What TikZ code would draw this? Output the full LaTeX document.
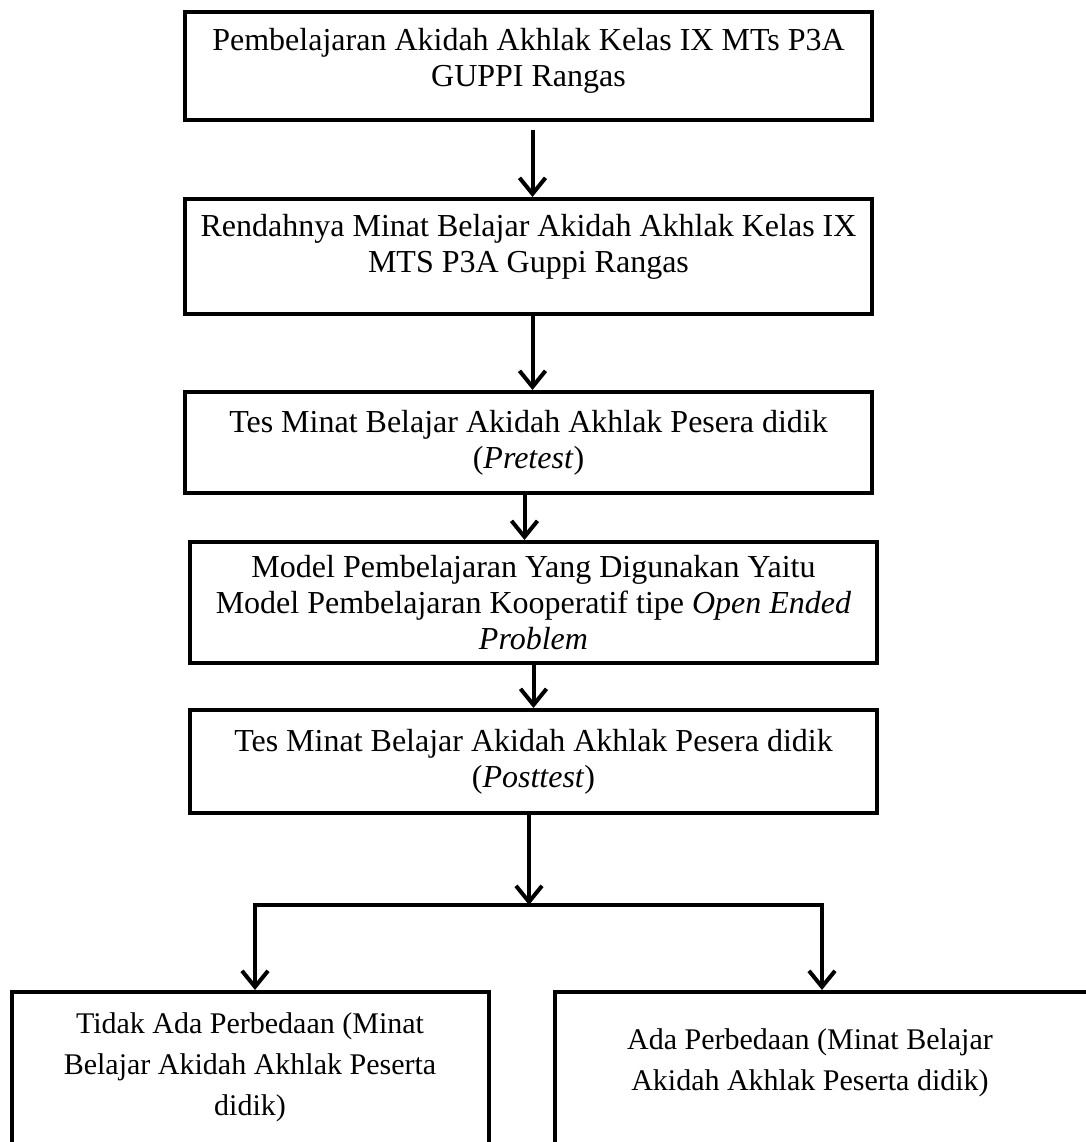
\documentclass[tikz,border=0pt]{standalone}
\usepackage{fontspec}
\setmainfont{Liberation Serif}
\usetikzlibrary{positioning,arrows.meta}

\begin{document}
\begin{tikzpicture}[x=0.5pt, y=-0.5pt, node distance=1cm and 1cm,
  kotak/.style={rectangle, draw, line width=2pt, align=center, inner sep=0pt,
    minimum width=343.5pt, font=\fontsize{16}{18}\selectfont},
  teks/.style={align=center, inner sep=0pt, font=\fontsize{15}{20.5}\selectfont},
  panah/.style={-{Straight Barb[length=8pt, width=13pt]}, line width=2pt},
  garis/.style={line width=2pt, line cap=rect}]
  \path[use as bounding box, clip] (0,0) rectangle (1086,1142);

  \node[kotak, minimum height=54pt, text depth=8.5pt] (b1) at (528.5,66)
    {Pembelajaran Akidah Akhlak Kelas IX MTs P3A\\GUPPI Rangas};
  \node[kotak, minimum height=57.5pt, text depth=13pt] (b2) [below=37.5pt of b1]
    {Rendahnya Minat Belajar Akidah Akhlak Kelas IX\\MTS P3A Guppi Rangas};
  \node[kotak, minimum height=50.5pt] (b3) [below=37pt of b2]
    {Tes Minat Belajar Akidah Akhlak Pesera didik\\(\textit{Pretest})};
  \node[kotak, minimum height=60.5pt] (b4) [below=22.5pt of b3, xshift=2.5pt]
    {Model Pembelajaran Yang Digunakan Yaitu\\Model Pembelajaran Kooperatif tipe \textit{Open Ended}\\\textit{Problem}};
  \node[kotak, minimum height=51.5pt] (b5) [below=21.5pt of b4]
    {Tes Minat Belajar Akidah Akhlak Pesera didik\\(\textit{Posttest})};

  % hasil
  \node[kotak, minimum width=238.5pt, minimum height=100pt, anchor=north west] (no) at (10,990) {};
  \node[kotak, minimum width=280pt, minimum height=100pt, anchor=north west] (yes) at (553,990) {};
  \node[teks] (notxt) at (250,1067)
    {Tidak Ada Perbedaan (Minat\\Belajar Akidah Akhlak Peserta\\didik)};
  \node[teks] (yestxt) at (810,1063)
    {Ada Perbedaan (Minat Belajar\\Akidah Akhlak Peserta didik)};

  \coordinate (cab) at (529,905);
  \coordinate (kiri) at (255,905);
  \coordinate (kanan) at (822,905);

  \draw[panah] ([xshift=2pt, yshift=-4pt]b1.south) -- ([xshift=2pt]b2.north);
  \draw[panah] ([xshift=2pt]b2.south) -- ([xshift=2pt]b3.north);
  \draw[panah] ([xshift=-2pt]b3.south) -- ([xshift=-2pt]b3.south |- b4.north);
  \draw[panah] (b4.south) -- (b5.south |- b5.north);
  \draw[panah] (cab |- b5.south) -- (cab);
  \draw[garis] (kiri) -- (kanan);
  \draw[panah] (kiri) -- (kiri |- no.north);
  \draw[panah] (kanan) -- (kanan |- yes.north);
\end{tikzpicture}
\end{document}
